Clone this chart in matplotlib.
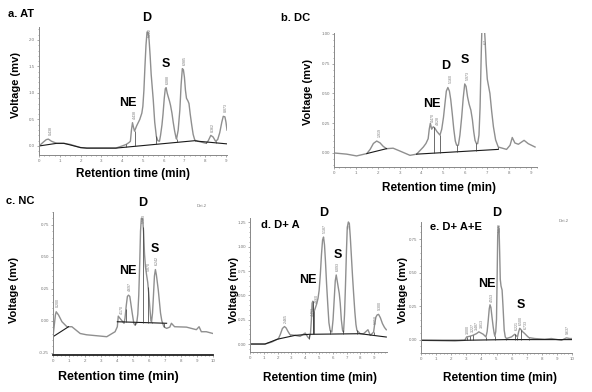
import matplotlib
matplotlib.use("Agg")
import matplotlib.pyplot as plt
import numpy as np
from matplotlib.ticker import AutoMinorLocator

plt.rcParams['font.family'] = ['Liberation Sans', 'DejaVu Sans']

# ---------------- data (retention time in min, voltage in mV) ----------------
# a. AT
a_time = [0, 0.2, 0.35, 0.45, 0.6, 0.85, 1.2, 1.5, 2.0, 2.3, 3.7, 4.0, 4.2, 4.35, 4.4, 4.45, 4.5,
          4.55, 4.6, 4.7, 4.85, 4.95, 5.0, 5.05, 5.1, 5.15, 5.2, 5.25, 5.3, 5.35, 5.4, 5.5, 5.57,
          5.65, 5.72, 5.8, 5.85, 5.92, 5.97, 6.03, 6.08, 6.12, 6.17, 6.22, 6.28, 6.33, 6.4, 6.46,
          6.53, 6.6, 6.62, 6.7, 6.78, 6.84, 6.9, 6.95, 7.0, 7.05, 7.1, 7.17, 7.22, 7.28, 7.35,
          7.42, 7.5, 7.65, 8.05, 8.15, 8.27, 8.38, 8.5, 8.6, 8.7, 8.8, 8.87, 8.95, 9.0, 9.05]
a_signal = [0.0, 0.07, 0.12, 0.13, 0.09, 0.05, 0.05, 0.03, -0.03, -0.04, -0.04, 0.0, 0.03, 0.07,
            0.09, 0.3, 0.44, 0.35, 0.28, 0.38, 0.5, 0.62, 0.75, 1.05, 1.5, 1.9, 2.15, 2.15, 2.0,
            1.7, 1.35, 0.87, 0.45, 0.18, 0.1, 0.09, 0.2, 0.4, 0.6, 0.9, 1.08, 1.1, 1.0, 0.93,
            0.85, 0.77, 0.62, 0.45, 0.28, 0.15, 0.13, 0.3, 0.68, 1.15, 1.46, 1.44, 1.3, 1.05,
            0.9, 0.85, 0.8, 0.6, 0.4, 0.22, 0.11, 0.09, 0.05, 0.1, 0.2, 0.17, 0.09, 0.12, 0.25,
            0.45, 0.56, 0.55, 0.45, 0.3]
a_base = [([0, 0.85, 1.2, 2.0, 2.3, 3.7, 7.5, 7.65, 9.05],
           [0.0, 0.05, 0.05, -0.03, -0.04, -0.04, 0.1, 0.09, 0.04])]
a_drops = [0.85, 4.2, 4.6, 5.65, 6.62, 7.5, 8.05, 8.5]
a_peaks = [0.45, 4.5, 5.2, 6.1, 6.9, 8.27, 8.87]
a_peak_labels = ["0.438", "4.438", "5.222", "6.088", "6.985", "8.362", "8.873"]

# b. DC
b_time = [0, 0.58, 1.03, 1.5, 1.65, 1.8, 1.95, 2.1, 2.25, 2.4, 2.7, 3.0, 3.47, 3.77, 4.08, 4.2,
          4.3, 4.35, 4.4, 4.46, 4.53, 4.6, 4.7, 4.84, 4.92, 5.0, 5.07, 5.13, 5.2, 5.27, 5.33,
          5.4, 5.47, 5.54, 5.6, 5.68, 5.75, 5.83, 5.9, 5.97, 6.03, 6.1, 6.17, 6.25, 6.32, 6.38,
          6.44, 6.5, 6.56, 6.62, 6.67, 6.72, 6.76, 6.85, 6.9, 6.95, 7.0, 7.06, 7.12, 7.2, 7.28,
          7.38, 7.5, 7.88, 8.04, 8.14, 8.26, 8.42, 8.68, 8.87, 9.18]
b_signal = [0.0, -0.01, -0.025, -0.005, 0.03, 0.08, 0.10, 0.085, 0.055, 0.036, 0.04, 0.017,
            -0.02, -0.01, 0.05, 0.08, 0.12, 0.2, 0.25, 0.2, 0.22, 0.21, 0.18, 0.15, 0.2, 0.3,
            0.42, 0.52, 0.55, 0.52, 0.45, 0.33, 0.2, 0.1, 0.065, 0.065, 0.15, 0.3, 0.46, 0.58,
            0.56, 0.47, 0.41, 0.36, 0.28, 0.18, 0.106, 0.08, 0.078, 0.15, 0.38, 0.8, 1.1, 1.1,
            0.95, 0.75, 0.62, 0.56, 0.5, 0.35, 0.22, 0.11, 0.05, 0.03, 0.065, 0.13, 0.084, 0.073,
            0.106, 0.078, 0.05]
b_base = [([1.5, 2.4], [-0.005, 0.036]), ([3.77, 7.5], [-0.01, 0.03])]
b_drops = [1.5, 2.4, 4.57, 4.84, 5.6, 6.5, 7.5]
b_peaks = [1.95, 4.38, 4.62, 5.2, 5.97, 6.8]
b_peak_labels = ["1.919", "4.470", "4.628", "5.160", "5.973", "6.7"]

# c. NC
c_time = [0, 0.15, 0.2, 0.35, 0.56, 0.87, 1.18, 1.7, 2.1, 2.95, 3.36, 3.88, 4.02, 4.08, 4.19,
          4.36, 4.44, 4.5, 4.58, 4.65, 4.72, 4.8, 4.87, 4.95, 5.05, 5.12, 5.23, 5.3, 5.36, 5.42,
          5.47, 5.52, 5.6, 5.66, 5.72, 5.78, 5.85, 5.92, 5.98, 6.06, 6.12, 6.16, 6.22, 6.28,
          6.34, 6.4, 6.46, 6.52, 6.58, 6.65, 6.72, 6.8, 6.93, 7.1, 7.3, 7.4, 7.6, 8.34, 8.96,
          9.13, 9.27, 9.58, 10.0]
c_signal = [-0.125, 0.044, 0.07, 0.044, -0.008, -0.047, -0.047, -0.1, -0.11, -0.12, -0.125,
            -0.086, -0.047, 0.036, 0.018, -0.008, -0.02, 0.02, 0.12, 0.19, 0.2, 0.19, 0.13, 0.06,
            -0.02, -0.034, -0.02, 0.05, 0.2, 0.45, 0.7, 0.8, 0.8, 0.7, 0.52, 0.42, 0.357, 0.3,
            0.22, 0.09, 0.0, -0.008, 0.06, 0.2, 0.35, 0.4, 0.36, 0.3, 0.24, 0.15, 0.06, 0.0,
            -0.047, -0.06, -0.05, -0.02, -0.047, -0.05, -0.07, -0.047, -0.086, -0.086, -0.1]
c_base = [([0, 0.97], [-0.125, -0.047]), ([4.02, 7.1], [-0.008, -0.02])]
c_drops = [4.36, 4.56, 5.12, 5.64, 5.95, 6.16, 6.93]
c_peaks = [0.2, 4.19, 4.71, 5.54, 5.85, 6.4]
c_peak_labels = ["0.200", "4.170", "4.697", "5.563", "5.870", "6.242"]

# d. D+A
d_time = [0, 1.09, 1.57, 2.06, 2.2, 2.35, 2.5, 2.62, 2.75, 2.9, 3.27, 3.63, 4.0, 4.19, 4.29,
          4.38, 4.45, 4.5, 4.55, 4.6, 4.66, 4.72, 4.84, 4.93, 5.01, 5.1, 5.18, 5.26, 5.33, 5.4,
          5.47, 5.55, 5.64, 5.72, 5.81, 5.93, 6.02, 6.1, 6.18, 6.25, 6.32, 6.4, 6.47, 6.54,
          6.62, 6.71, 6.78, 6.85, 6.92, 6.99, 7.05, 7.13, 7.2, 7.27, 7.35, 7.43, 7.51, 7.6,
          7.68, 7.75, 7.99, 8.23, 8.55, 8.72, 8.96, 9.05, 9.13, 9.22, 9.32, 9.45, 9.6, 9.75, 9.88]
d_signal = [0.0, 0.0, 0.02, 0.055, 0.1, 0.16, 0.18, 0.165, 0.13, 0.096, 0.089, 0.079, 0.113,
            0.072, 0.055, 0.1, 0.25, 0.42, 0.44, 0.33, 0.34, 0.364, 0.415, 0.47, 0.55, 0.72,
            0.92, 1.07, 1.1, 1.02, 0.85, 0.62, 0.4, 0.22, 0.14, 0.123, 0.25, 0.45, 0.65, 0.71,
            0.65, 0.58, 0.52, 0.42, 0.25, 0.14, 0.123, 0.3, 0.6, 0.95, 1.2, 1.255, 1.24, 1.1,
            0.9, 0.7, 0.52, 0.33, 0.2, 0.14, 0.106, 0.106, 0.147, 0.089, 0.123, 0.22, 0.278,
            0.3, 0.305, 0.27, 0.21, 0.17, 0.147]
d_base = [([0, 1.09, 2.0, 3.27, 4.29, 7.99, 9.88], [0.0, 0.0, 0.05, 0.089, 0.1, 0.106, 0.072])]
d_drops = [2.06, 2.9, 4.29, 4.55, 4.6, 4.65, 5.81, 6.71, 7.75, 8.96]
d_peaks = [2.5, 4.45, 4.75, 5.33, 6.25, 7.13, 9.0, 9.32]
d_peak_labels = ["2.465", "4.493", "4.660", "5.187", "6.093", "7.0", "9.058", "9.300"]

# e. D+A+E
e_time = [0, 2.25, 2.9, 3.02, 3.24, 3.46, 3.68, 3.83, 4.12, 4.3, 4.38, 4.45, 4.52, 4.57, 4.63,
          4.7, 4.78, 4.84, 4.89, 4.95, 5.0, 5.04, 5.08, 5.12, 5.17, 5.21, 5.25, 5.3, 5.37,
          5.43, 5.51, 5.58, 5.66, 5.99, 6.21, 6.3, 6.39, 6.47, 6.54, 6.62, 6.72, 6.87, 7.0,
          7.14, 7.53, 8.19, 8.63, 9.3, 9.63, 9.85, 10.0]
e_signal = [-0.005, -0.01, -0.005, 0.02, 0.025, 0.033, 0.045, 0.058, 0.04, 0.02, 0.06, 0.14,
            0.23, 0.26, 0.24, 0.17, 0.095, 0.05, 0.025, 0.06, 0.15, 0.45, 0.78, 0.845, 0.83,
            0.65, 0.45, 0.4, 0.37, 0.25, 0.07, 0.02, 0.008, 0.02, 0.04, 0.03, 0.02, 0.06, 0.085,
            0.075, 0.06, 0.045, 0.03, 0.015, 0.008, 0.003, 0.008, -0.005, 0.013, 0.008, 0.008]
e_base = [([0, 2.9, 5.66, 10.0], [-0.005, -0.005, 0.0, 0.0])]
e_drops = [2.9, 3.02, 3.24, 3.46, 4.3, 4.89, 5.66, 6.21, 6.39, 6.65, 7.14, 9.3]
e_peaks = [3.0, 3.3, 3.6, 3.9, 4.56, 5.13, 6.21, 6.52, 6.85, 9.63]
e_peak_labels = ["3.000", "3.227", "3.487", "3.813", "4.553", "5.072", "6.221", "6.500",
                 "6.733", "9.637"]

# ---------------- figure ----------------
W, H = 592, 392
fig = plt.figure(figsize=(W / 100, H / 100), dpi=100)


def ax_px(l, t, r, b):
    return fig.add_axes([l / W, 1 - b / H, (r - l) / W, (b - t) / H])


def txt(x, y, s, size=9, **kw):
    fig.text(x / W, 1 - y / H, s, fontsize=size, fontweight='bold', ha='center', va='center', **kw)


def base_at(segments, x):
    for bt, bs in segments:
        if bt[0] <= x <= bt[-1]:
            return np.interp(x, bt, bs)
    # nearest segment end
    best = min(segments, key=lambda sg: min(abs(sg[0][0] - x), abs(sg[0][-1] - x)))
    return np.interp(x, best[0], best[1])


def panel(box, t, s, base, drops, peaks, plabels, xlim, ylim, xticks, yticks, yfmt):
    ax = ax_px(*box)
    ax.plot(t, s, color='#8f8f8f', lw=1.0, solid_joinstyle='round')
    for bt, bs in base:
        ax.plot(bt, bs, color='#1a1a1a', lw=0.8)
    for d in drops:
        y0 = base_at(base, d)
        y1 = np.interp(d, t, s)
        ax.vlines(d, min(y0, y1), max(y0, y1), color='#333333', lw=0.5)
    span = ylim[1] - ylim[0]
    for p, lab in zip(peaks, plabels):
        yp = min(np.interp(p, t, s) + 0.03 * span, ylim[1] - 0.08 * span)
        ax.text(p + 0.12, yp, lab, fontsize=2.6, rotation=90, color='#777777',
                ha='center', va='bottom')
    ax.set_xlim(*xlim)
    ax.set_ylim(*ylim)
    ax.set_xticks(xticks)
    ax.set_yticks(yticks)
    ax.set_yticklabels([yfmt.format(v) for v in yticks])
    ax.xaxis.set_minor_locator(AutoMinorLocator(4))
    ax.yaxis.set_minor_locator(AutoMinorLocator(5))
    ax.tick_params(which='both', labelsize=3.2, labelcolor='#777777', color='#888888',
                   length=1.5, width=0.5, pad=1.5)
    ax.tick_params(which='minor', length=1.0)
    for side in ('top', 'right'):
        ax.spines[side].set_visible(False)
    for side in ('left', 'bottom'):
        ax.spines[side].set_color('#888888')
        ax.spines[side].set_linewidth(0.7)
    ax.patch.set_alpha(0)
    return ax


panel((39, 27, 227, 155), a_time, a_signal, a_base, a_drops, a_peaks,
      a_peak_labels, (0, 9.05), (-0.17, 2.245), list(range(10)), [0, 0.5, 1.0, 1.5, 2.0], "{:.1f}")
panel((334, 33, 537, 167), b_time, b_signal, b_base, b_drops, b_peaks,
      b_peak_labels, (0, 9.27), (-0.118, 1.008), list(range(10)), [0, 0.25, 0.5, 0.75, 1.0], "{:.2f}")
axc = panel((53, 212, 213, 355), c_time, c_signal, c_base, c_drops, c_peaks,
            c_peak_labels, (0, 10), (-0.268, 0.85), list(range(11)), [-0.25, 0, 0.25, 0.5, 0.75], "{:.2f}")
axc.spines['bottom'].set_color('#222222')
axc.spines['bottom'].set_linewidth(1.3)
panel((250, 218, 387, 352), d_time, d_signal, d_base, d_drops, d_peaks,
      d_peak_labels, (0, 9.93), (-0.082, 1.296), list(range(10)), [0, 0.25, 0.5, 0.75, 1.0, 1.25], "{:.2f}")
panel((421, 222, 572, 353), e_time, e_signal, e_base, e_drops, e_peaks,
      e_peak_labels, (0, 10), (-0.1, 0.878), list(range(11)), [0, 0.25, 0.5, 0.75], "{:.2f}")

# small detector tags
fig.text(197 / W, 1 - 207 / H, "Det.2", fontsize=3, color='#777777')
fig.text(559 / W, 1 - 222 / H, "Det.2", fontsize=3, color='#777777')

# panel titles
fig.text(8 / W, 1 - 14 / H, "a. AT", fontsize=8, fontweight='bold', va='center')
fig.text(281 / W, 1 - 18 / H, "b. DC", fontsize=8, fontweight='bold', va='center')
fig.text(6 / W, 1 - 201 / H, "c. NC", fontsize=8, fontweight='bold', va='center')
fig.text(261 / W, 1 - 225 / H, "d. D+ A", fontsize=8, fontweight='bold', va='center')
fig.text(430 / W, 1 - 227 / H, "e. D+ A+E", fontsize=8, fontweight='bold', va='center')

# peak names
txt(147, 18, "D"); txt(128, 103, "NE"); txt(166, 64, "S")
txt(446, 66, "D"); txt(432, 104, "NE"); txt(465, 60, "S")
txt(143, 203, "D"); txt(128, 271, "NE"); txt(155, 249, "S")
txt(324, 213, "D"); txt(308, 280, "NE"); txt(338, 255, "S")
txt(497, 213, "D"); txt(487, 284, "NE"); txt(521, 305, "S")

# axis titles
for (x, y) in [(16, 85), (308, 92), (14, 290), (234, 290), (403, 290)]:
    fig.text(x / W, 1 - y / H, "Voltage (mv)", fontsize=8, fontweight='bold', rotation=90,
             ha='center', va='center')
for (x, y, sz) in [(133, 174, 8.5), (439, 188, 8.5), (118, 377, 9), (320, 378, 8.5),
                   (500, 378, 8.5)]:
    txt(x, y, "Retention time (min)", size=sz)

fig.savefig("out.png", dpi=100)
